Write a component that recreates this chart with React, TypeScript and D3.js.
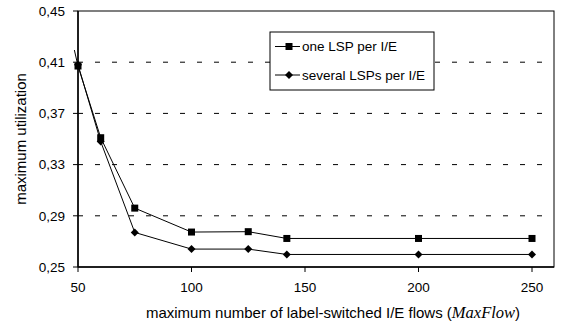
import React from 'react';
import * as d3 from 'd3';

// x values (MaxFlow) shared by both series
const maxFlow = [50, 60, 75, 100, 125, 142, 200, 250];
const oneLsp = [0.407, 0.351, 0.296, 0.2773, 0.2776, 0.2723, 0.2723, 0.2723];
const severalLsps = [0.408, 0.348, 0.277, 0.264, 0.264, 0.2598, 0.2598, 0.2598];
// little overshoot of the line past the first point (seen in the original)
const leadIn = { x: 48.4, y: 0.4195 };

const xTicks = [50, 100, 150, 200, 250];
const yTicks = [0.25, 0.29, 0.33, 0.37, 0.41, 0.45];
const gridTicks = [0.29, 0.33, 0.37, 0.41];

const W = 563;
const H = 324;
const margin = { top: 11, right: 9, bottom: 57, left: 78 };
const font = '"Liberation Sans", Arial, sans-serif';

export default function App() {
  const x = d3.scaleLinear().domain([50, 250]).range([margin.left, margin.left + 454]);
  const y = d3.scaleLinear().domain([0.25, 0.45]).range([H - margin.bottom, margin.top]);
  const right = W - margin.right;

  const line = d3.line<[number, number]>()
    .x(d => x(d[0]))
    .y(d => y(d[1]));

  const sq: [number, number][] = maxFlow.map((m, i) => [m, oneLsp[i]]);
  const dm: [number, number][] = maxFlow.map((m, i) => [m, severalLsps[i]]);

  const square = (cx: number, cy: number, key: string, s = 7) => (
    <rect key={key} x={cx - s / 2} y={cy - s / 2} width={s} height={s} fill="#000" />
  );
  const diamond = (cx: number, cy: number, key: string, s = 4) => (
    <path key={key} d={`M${cx},${cy - s}L${cx + s},${cy}L${cx},${cy + s}L${cx - s},${cy}Z`} fill="#000" />
  );

  const fmt = (v: number) => v.toFixed(2).replace('.', ',');

  return (
    <svg width={W} height={H} style={{ position: 'absolute', left: 0, top: 0, background: '#fff' }}
      fontFamily={font}>
      {/* gridlines */}
      {gridTicks.map(t => (
        <line key={t} x1={margin.left} x2={right} y1={y(t)} y2={y(t)}
          stroke="#000" strokeWidth={1} strokeDasharray="5,12" />
      ))}
      {/* frame */}
      <rect x={margin.left} y={y(0.45)} width={right - margin.left} height={y(0.25) - y(0.45)}
        fill="none" stroke="#000" strokeWidth={1} />
      <line x1={margin.left} x2={margin.left} y1={y(0.45)} y2={y(0.25)} stroke="#000" strokeWidth={1.5} />
      <line x1={margin.left} x2={right} y1={y(0.25)} y2={y(0.25)} stroke="#000" strokeWidth={1.5} />

      {/* y ticks */}
      {yTicks.map(t => (
        <g key={t}>
          <line x1={margin.left - 5} x2={margin.left} y1={y(t)} y2={y(t)} stroke="#000" />
          <text x={margin.left - 13} y={y(t)} dy="0.35em" textAnchor="end" fontSize={13.5} fill="#000">{fmt(t)}</text>
        </g>
      ))}
      {/* x ticks */}
      {xTicks.map(t => (
        <g key={t}>
          <line x1={x(t)} x2={x(t)} y1={y(0.25)} y2={y(0.25) + 5} stroke="#000" />
          <text x={x(t)} y={y(0.25) + 25} textAnchor="middle" fontSize={13.5} fill="#000">{t}</text>
        </g>
      ))}

      {/* axis titles */}
      <text x={333} y={318} textAnchor="middle" fontSize={15} fill="#000">
        maximum number of label-switched I/E flows (
        <tspan fontFamily='"Liberation Serif", "Times New Roman", serif' fontStyle="italic" fontSize={16.5}>MaxFlow</tspan>)
      </text>
      <text transform={`translate(26,${(y(0.45) + y(0.25)) / 2}) rotate(-90)`} textAnchor="middle"
        fontSize={15} fill="#000">maximum utilization</text>

      {/* series */}
      <path d={line([[leadIn.x, leadIn.y], sq[0]]) || ''} fill="none" stroke="#000" strokeWidth={1} />
      <path d={line(sq) || ''} fill="none" stroke="#000" strokeWidth={1} />
      <path d={line(dm) || ''} fill="none" stroke="#000" strokeWidth={1} />
      {dm.map((d, i) => diamond(x(d[0]), y(d[1]), 'd' + i))}
      {sq.map((d, i) => square(x(d[0]), y(d[1]), 's' + i))}

      {/* legend */}
      <g>
        <rect x={270} y={32} width={164} height={58} fill="#fff" stroke="#000" strokeWidth={1} />
        <line x1={275} x2={300} y1={46.5} y2={46.5} stroke="#000" />
        {square(289, 46.5, 'ls')}
        <text x={302} y={46.5} dy="0.35em" fontSize={13.5} fill="#000">one LSP per I/E</text>
        <line x1={275} x2={300} y1={75} y2={75} stroke="#000" />
        {diamond(289, 75, 'ld')}
        <text x={302} y={75} dy="0.35em" fontSize={13.5} fill="#000">several LSPs per I/E</text>
      </g>
    </svg>
  );
}
